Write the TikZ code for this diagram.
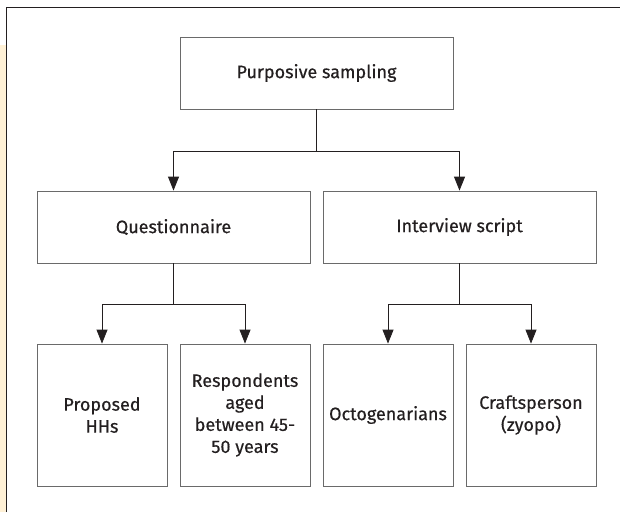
\documentclass[tikz,border=0pt]{standalone}
\usepackage{fontspec}
\setmainfont{Fira Sans}[FakeBold=0.5, UprightFeatures={FakeBold=0.5}]
\usetikzlibrary{arrows.meta}
\definecolor{boxgray}{HTML}{6A6A6A}
\definecolor{inkdark}{HTML}{231F20}
\definecolor{stripbeige}{HTML}{FFF1D6}
\begin{document}
\begin{tikzpicture}[x=1pt, y=-1pt,
        wide/.style={draw=boxgray, line width=0.8pt, minimum width=273pt,
            minimum height=72pt, inner sep=0pt, font=\fontsize{18}{22}\selectfont,
            text=inkdark},
        tall/.style={draw=boxgray, line width=0.8pt, minimum width=130pt,
            minimum height=142pt, inner sep=0pt, align=center,
            font=\fontsize{18}{22}\selectfont, text=inkdark},
        link/.style={draw=inkdark, line width=0.8pt,
            -{Triangle[width=11pt,length=14pt]}}]
    \useasboundingbox (0, 0) rectangle (620, 512);
    % frame and strip
    \fill [stripbeige] (0, 45) rectangle (5.5, 512);
    \draw [inkdark, line width=0.8pt] (6.5, 512) -- (6.5, 7.5) -- (620, 7.5);
    % boxes
    \node [wide] (samp) at (316.5, 73) {Purposive sampling};
    \node [wide] (quest) at (173.5, 227) {Questionnaire};
    \node [wide] (interv) at (459.5, 227) {Interview script};
    \node [tall] (hhs) at (102, 415) {Proposed\\HHs};
    \node [tall] (resp) at (245, 415) {Respondents\\aged\\between 45-\\50 years};
    \node [tall] (octo) at (388, 415) {Octogenarians};
    \node [tall] (craft) at (531, 415) {Craftsperson\\(zyopo)};
    % connectors
    \draw [link] (samp.south) -- ++(0, 42) -| (quest.north);
    \draw [link] (samp.south) -- ++(0, 42) -| (interv.north);
    \draw [link] (quest.south) -- ++(0, 41) -| (hhs.north);
    \draw [link] (quest.south) -- ++(0, 41) -| (resp.north);
    \draw [link] (interv.south) -- ++(0, 41) -| (octo.north);
    \draw [link] (interv.south) -- ++(0, 41) -| (craft.north);
\end{tikzpicture}
\end{document}
